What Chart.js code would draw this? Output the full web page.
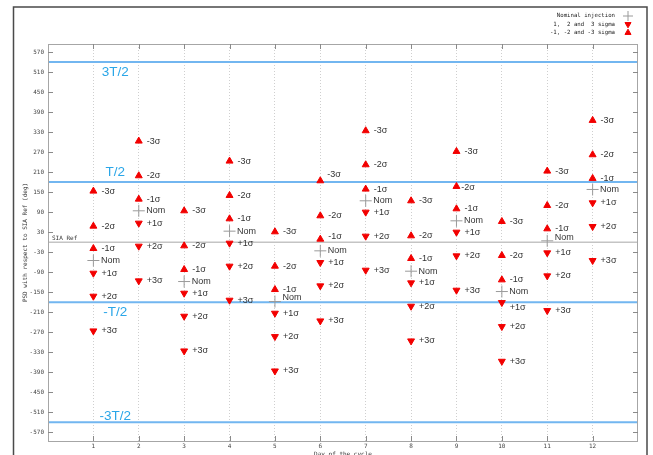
<!DOCTYPE html>
<html>
<head>
<meta charset="utf-8">
<script src="https://cdn.jsdelivr.net/npm/chart.js@4.4.1/dist/chart.umd.min.js"></script>
<style>
  html, body { margin: 0; padding: 0; background: #fff; }
  #wrap { width: 653px; height: 455px; position: relative; }
</style>
</head>
<body>
<div id="wrap"><canvas id="c" width="653" height="455"></canvas></div>
<script>
// Day of the cycle
const days = [1, 2, 3, 4, 5, 6, 7, 8, 9, 10, 11, 12];

// PSD (deg) relative to the SIA reference, per injection level
const minus3 = [153, 303, 94, 243, 31, 184, 334, 124, 272, 62, 213, 365];
const minus2 = [48, 199, -11, 140, -72, 79, 232, 19, 167, -40, 110, 262];
const minus1 = [-19, 129, -82, 70, -142, 9, 159, -49, 100, -113, 40, 191];
const nominal = [-55, 94, -118, 33, -178, -26, 124, -87, 64, -148, 4, 158];
const plus1 = [-93, 57, -153, -3, -213, -61, 90, -122, 30, -181, -32, 118];
const plus2 = [-162, -12, -222, -72, -283, -131, 18, -192, -41, -253, -101, 47];
const plus3 = [-266, -116, -326, -174, -386, -236, -84, -296, -144, -357, -205, -55];

const sigmaNames = ['-3σ', '-2σ', '-1σ', 'Nom', '+1σ', '+2σ', '+3σ'];

// Horizontal reference levels (deg)
const refLevels = [540, 180, 0, -180, -540];
const refNames = ['3T/2', 'T/2', 'SIA Ref', '-T/2', '-3T/2'];

// Axis ticks
const yTickValues = [570, 510, 450, 390, 330, 270, 210, 150, 90, 30, -30, -90, -150, -210, -270, -330, -390, -450, -510, -570];
const xTickValues = [1, 2, 3, 4, 5, 6, 7, 8, 9, 10, 11, 12];

const legendNames = ['Nominal injection', '1,  2 and  3 sigma', '-1, -2 and -3 sigma'];

// Hand placement of a few point labels that would otherwise touch a line: [dx, dy] px, by day index
const labelNudges = {
  '-3σ': { 5: [-1, -6.3] },
  '-2σ': { 8: [-3.3, 1.3] },
  '-1σ': { 5: [0, -3] },
  'Nom': { 4: [0, -3.7], 10: [0, -3] },
  '+1σ': { 9: [0, 5.3] }
};

const RED = '#f20000';
const CROSS_GREY = '#9a9a9a';
const BLUE_LINE = '#72b6f0';
const BLUE_TEXT = '#2aa6e8';
const MONO = '"DejaVu Sans Mono", "Liberation Mono", monospace';

const sigmaSeries = [minus3, minus2, minus1, nominal, plus1, plus2, plus3];

const markerDatasets = sigmaSeries.map((vals, k) => {
  const isNom = k === 3;
  return {
    type: 'scatter',
    label: sigmaNames[k],
    tag: sigmaNames[k],
    data: days.map((d, i) => ({ x: d, y: vals[i] })),
    showLine: false,
    pointStyle: isNom ? 'cross' : 'triangle',
    pointRotation: k > 3 ? 180 : 0,
    pointRadius: isNom ? 6 : 4,
    pointBackgroundColor: isNom ? 'rgba(0,0,0,0)' : RED,
    pointBorderColor: isNom ? CROSS_GREY : RED,
    pointBorderWidth: 1,
    order: 0
  };
});

const refDatasets = refLevels.map((lvl, k) => ({
  type: 'scatter',
  label: refNames[k],
  refLine: true,
  data: [{ x: 0, y: lvl }, { x: 13, y: lvl }],
  showLine: true,
  borderColor: lvl === 0 ? '#c4c4c4' : BLUE_LINE,
  borderWidth: lvl === 0 ? 1.5 : 2,
  pointRadius: 0,
  order: 10
}));

// Frame, inward tick marks, labels and legend
const decor = {
  id: 'decor',
  beforeDraw(chart) {
    const ctx = chart.ctx;
    ctx.save();
    ctx.fillStyle = '#fff';
    ctx.fillRect(0, 0, chart.width, chart.height);
    ctx.restore();
  },
  afterDatasetsDraw(chart) {
    const ctx = chart.ctx;
    const xs = chart.scales.x, ys = chart.scales.y;
    ctx.save();

    // point labels
    ctx.font = '9px "Liberation Sans", Arial, sans-serif';
    ctx.fillStyle = '#333';
    ctx.textAlign = 'left';
    ctx.textBaseline = 'middle';
    chart.data.datasets.forEach((ds, di) => {
      if (!ds.tag) return;
      const meta = chart.getDatasetMeta(di);
      const dx = ds.tag === 'Nom' ? 7.5 : 8;
      const nudges = labelNudges[ds.tag] || {};
      meta.data.forEach((el, i) => {
        const n = nudges[i] || [0, 0];
        ctx.fillText(ds.tag, el.x + dx + n[0], el.y + n[1]);
      });
    });

    // reference-level labels
    const blueOffsets = { '3T/2': 10, 'T/2': -10, '-T/2': 10.5, '-3T/2': -6 };
    ctx.font = '13.5px "Liberation Sans", Arial, sans-serif';
    ctx.fillStyle = BLUE_TEXT;
    ctx.textAlign = 'center';
    ctx.textBaseline = 'middle';
    refLevels.forEach((lvl, k) => {
      if (lvl === 0) return;
      const name = refNames[k];
      ctx.fillText(name, xs.getPixelForValue(1.48), ys.getPixelForValue(lvl) + blueOffsets[name]);
    });
    ctx.font = '6px ' + MONO;
    ctx.fillStyle = '#333';
    ctx.textAlign = 'left';
    ctx.textBaseline = 'bottom';
    ctx.fillText(refNames[2], chart.chartArea.left + 4, ys.getPixelForValue(0) - 1);

    ctx.restore();
  },
  afterDraw(chart) {
    const ctx = chart.ctx;
    const a = chart.chartArea;
    const xs = chart.scales.x, ys = chart.scales.y;
    ctx.save();

    // plot box
    ctx.strokeStyle = '#a6a6a6';
    ctx.lineWidth = 1;
    ctx.strokeRect(Math.round(a.left) + 0.5, Math.round(a.top) + 0.5,
      Math.round(a.right - a.left) - 1, Math.round(a.bottom - a.top));

    // inward ticks
    ctx.strokeStyle = '#8a8a8a';
    ctx.beginPath();
    yTickValues.forEach(v => {
      const y = Math.round(ys.getPixelForValue(v)) + 0.5;
      ctx.moveTo(a.left, y); ctx.lineTo(a.left + 5, y);
      ctx.moveTo(a.right, y); ctx.lineTo(a.right - 5, y);
    });
    xTickValues.forEach(v => {
      const x = Math.round(xs.getPixelForValue(v)) + 0.5;
      ctx.moveTo(x, a.bottom); ctx.lineTo(x, a.bottom - 5);
      ctx.moveTo(x, a.top); ctx.lineTo(x, a.top + 5);
    });
    ctx.stroke();

    // outer frame
    ctx.strokeStyle = '#4a4a4a';
    ctx.lineWidth = 1.5;
    ctx.beginPath();
    ctx.moveTo(13.5, chart.height);
    ctx.lineTo(13.5, 7);
    ctx.lineTo(647, 7);
    ctx.lineTo(647, chart.height);
    ctx.stroke();

    // legend
    const rows = [16, 24.3, 32.7];
    const sample = [markerDatasets[3], markerDatasets[4], markerDatasets[0]];
    ctx.font = '5.7px ' + MONO;
    ctx.fillStyle = '#222';
    ctx.textAlign = 'right';
    ctx.textBaseline = 'middle';
    rows.forEach((y, i) => {
      ctx.fillText(legendNames[i], 615, y);
      const ds = sample[i];
      ctx.fillStyle = ds.pointBackgroundColor;
      ctx.strokeStyle = ds.pointBorderColor;
      ctx.lineWidth = 1;
      Chart.helpers.drawPoint(ctx, {
        pointStyle: ds.pointStyle,
        rotation: ds.pointRotation,
        radius: ds.pointStyle === 'cross' ? 5 : 3.5,
        borderWidth: 1
      }, 628, y);
      ctx.fillStyle = '#222';
    });

    ctx.restore();
  }
};

new Chart(document.getElementById('c'), {
  type: 'scatter',
  data: { datasets: [...refDatasets, ...markerDatasets] },
  options: {
    responsive: false,
    animation: false,
    events: [],
    devicePixelRatio: 1,
    layout: { padding: { left: 0, right: 15, top: 44, bottom: 0 } },
    plugins: { legend: { display: false }, tooltip: { enabled: false } },
    scales: {
      x: {
        type: 'linear',
        min: 0,
        max: 13,
        afterBuildTicks: axis => { axis.ticks = xTickValues.map(v => ({ value: v })); },
        afterFit: axis => { axis.height = 14; },
        grid: { color: '#cfcfcf', lineWidth: 1, drawTicks: false },
        border: { display: false, dash: [1, 2] },
        ticks: {
          padding: 1.5,
          maxRotation: 0,
          autoSkip: false,
          color: '#444',
          font: { family: MONO, size: 6 }
        },
        title: {
          display: true,
          text: 'Day of the cycle',
          color: '#333',
          font: { family: MONO, size: 6 },
          padding: { top: 0, bottom: -2.6 }
        }
      },
      y: {
        type: 'linear',
        min: -596,
        max: 594,
        afterBuildTicks: axis => { axis.ticks = yTickValues.map(v => ({ value: v })); },
        afterFit: axis => { axis.width = 48; },
        grid: { display: false, drawTicks: false },
        border: { display: false },
        ticks: {
          padding: 4,
          autoSkip: false,
          color: '#444',
          font: { family: MONO, size: 6 }
        },
        title: {
          display: true,
          text: 'PSD with respect to SIA Ref (deg)',
          color: '#333',
          font: { family: MONO, size: 6 },
          padding: { top: 21.4, bottom: 0 }
        }
      }
    }
  },
  plugins: [decor]
});
</script>
</body>
</html>
